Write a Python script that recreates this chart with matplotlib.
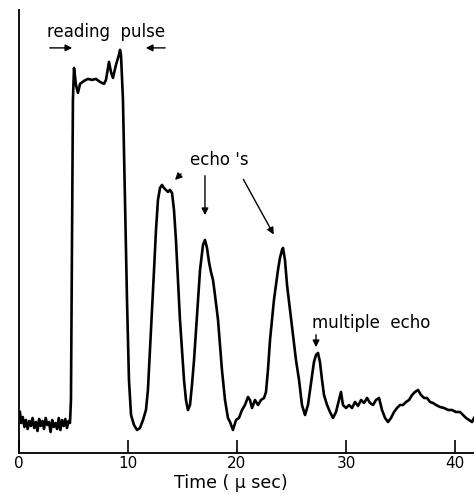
import matplotlib
matplotlib.use("Agg")
import matplotlib.pyplot as plt

# time in microseconds
time_us = [0.09, 0.20, 0.35, 0.50, 0.64, 0.80, 0.95, 1.10, 1.25, 1.40, 1.55, 1.70, 1.85, 2.00, 2.15,
           2.30, 2.45, 2.60, 2.75, 2.90, 3.05, 3.20, 3.35, 3.50, 3.65, 3.80, 3.95, 4.10, 4.25, 4.40,
           4.55, 4.68,
           4.77, 4.86, 4.95, 5.05,
           5.23, 5.41, 5.60, 5.96, 6.33, 6.70, 7.06, 7.43, 7.80, 7.98, 8.26, 8.44, 8.62, 8.90, 9.17, 9.27, 9.36,
           9.54, 9.72, 9.91, 10.09, 10.28, 10.55, 10.83, 11.10, 11.38,
           11.65, 11.83, 12.02, 12.20, 12.39, 12.57, 12.75, 12.94, 13.12, 13.30, 13.49, 13.67, 13.85, 14.04,
           14.22, 14.40, 14.59, 14.77, 14.95, 15.14, 15.32, 15.50, 15.69,
           15.87, 16.06, 16.24, 16.42, 16.61, 16.88, 17.06, 17.25, 17.43, 17.61, 17.80, 17.98, 18.26, 18.44,
           18.62, 18.90, 19.17, 19.36, 19.63, 19.91,
           20.18, 20.46, 20.73, 21.01, 21.19, 21.38, 21.65, 21.93, 22.20, 22.48, 22.66,
           22.84, 23.03, 23.21, 23.39, 23.58, 23.76, 23.94, 24.13, 24.22, 24.40, 24.59, 24.86, 25.14, 25.41,
           25.69, 25.96, 26.24, 26.51,
           26.70, 26.88, 27.06, 27.25, 27.43, 27.61, 27.80, 27.98, 28.26, 28.53, 28.81, 29.08, 29.36, 29.54,
           29.72, 30.00, 30.28, 30.55, 30.83, 31.10, 31.38, 31.65, 31.93, 32.20, 32.48, 32.75, 33.03, 33.30,
           33.58, 33.85, 34.13, 34.40, 34.68, 34.95, 35.23, 35.50, 35.78, 36.06, 36.33, 36.61, 36.88, 37.16,
           37.43, 37.71, 37.98, 38.26, 38.62, 38.99, 39.36, 39.72, 40.09, 40.46, 40.73, 41.01, 41.28, 41.56,
           41.74]

# signal amplitude (arbitrary units)
signal = [41, 30, 36, 26, 33, 24, 32, 27, 35, 25, 31, 22, 34, 27, 32,
          24, 35, 28, 31, 21, 33, 26, 30, 24, 35, 23, 33, 27, 34, 25,
          32, 30,
          53, 203, 353, 385,
          368, 360, 369, 372, 374, 373, 374, 371, 369, 373, 391, 381, 375, 388, 398, 403, 398,
          353, 253, 153, 73, 38, 28, 23, 25, 33,
          43, 63, 103, 143, 183, 223, 253, 265, 268, 265, 263, 261, 263, 260,
          243, 213, 173, 133, 103, 73, 53, 43, 48,
          68, 93, 123, 153, 183, 208, 213, 205, 191, 181, 173, 158, 133, 108,
          83, 53, 35, 31, 23, 33,
          35, 43, 48, 56, 53, 45, 53, 48, 53, 55, 61,
          83, 113, 133, 153, 168, 183, 195, 203, 205, 193, 168, 143, 118, 93,
          73, 48, 38, 48,
          63, 78, 91, 98, 100, 91, 73, 58, 48, 41, 35, 41, 53, 61,
          48, 45, 48, 45, 51, 47, 53, 50, 55, 50, 48, 53, 55, 43,
          35, 31, 35, 41, 45, 48, 48, 51, 53, 58, 61, 63, 58, 55,
          55, 51, 50, 48, 46, 45, 43, 43, 41, 41, 38, 35, 33, 31,
          35]

xticks = [0, 10, 20, 30, 40]
xlabel = "Time ( μ sec)"

fig = plt.figure(figsize=(4.74, 4.94), dpi=100)
ax = fig.add_axes([0.040, 0.083, 0.960, 0.897])

ax.plot(time_us, signal, color="black", lw=1.9, solid_joinstyle="round")

ax.set_xlim(0, 41.74)
ax.set_ylim(0, 443)

for s in ["top", "right"]:
    ax.spines[s].set_visible(False)
for s in ["left", "bottom"]:
    ax.spines[s].set_linewidth(1.3)

ax.set_yticks([])
ax.set_xticks(xticks)
ax.set_xticklabels([str(v) for v in xticks])
ax.tick_params(axis="x", direction="in", length=9.5, width=1.2, pad=2.5, labelsize=11)
ax.set_xlabel(xlabel, fontsize=12.5)
ax.xaxis.set_label_coords(0.466, -0.068)
ax.xaxis.label.set_verticalalignment("center")

fs = 12
arrow = dict(arrowstyle="-|>", color="black", lw=1.0, mutation_scale=10)
ax.text(2.57, 421, "reading  pulse", fontsize=fs, ha="left", va="center")
ax.annotate("", xy=(5.14, 405), xytext=(2.57, 405), arrowprops=arrow)
ax.annotate("", xy=(11.38, 405), xytext=(13.67, 405), arrowprops=arrow)

ax.text(15.69, 293, "echo 's", fontsize=fs, ha="left", va="center")
ax.annotate("", xy=(14.13, 271), xytext=(15.05, 281), arrowprops=arrow)
ax.annotate("", xy=(17.06, 235), xytext=(17.06, 280), arrowprops=arrow)
ax.annotate("", xy=(23.49, 216), xytext=(20.46, 276), arrowprops=arrow)

ax.text(26.88, 130, "multiple  echo", fontsize=fs, ha="left", va="center")
ax.annotate("", xy=(27.25, 103), xytext=(27.25, 121), arrowprops=arrow)

fig.savefig("out.png", dpi=100)
